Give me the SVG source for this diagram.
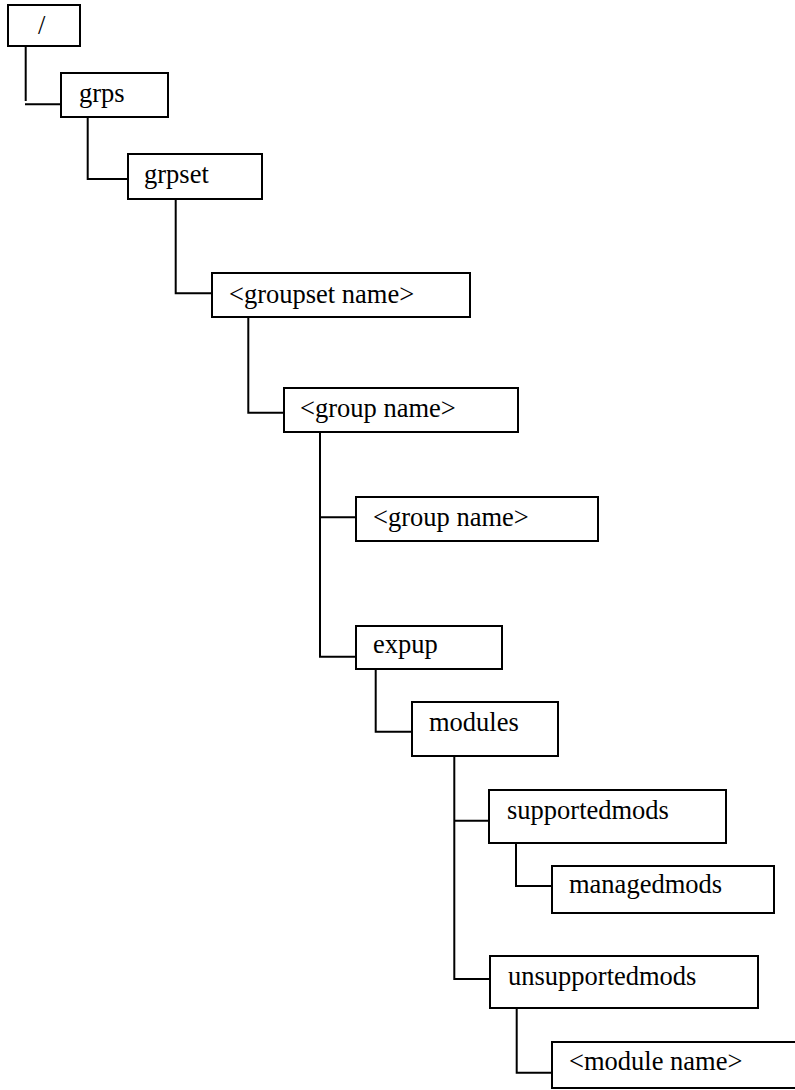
<svg xmlns="http://www.w3.org/2000/svg" width="795" height="1090" viewBox="0 0 795 1090">
<style>
.box{fill:#fff;stroke:#000;stroke-width:2}
.lbl{font-family:"Liberation Serif","Times New Roman",serif;font-size:26.5px;fill:#000}
.con{fill:none;stroke:#000;stroke-width:2}
</style>
<rect width="795" height="1090" fill="#fff"/>
<g id="connectors">
<path class="con" d="M25.7,46 V101 M25,104.3 H61"/>
<path class="con" d="M87.7,117 V179 H128"/>
<path class="con" d="M175.7,199 V293.3 H212"/>
<path class="con" d="M248.3,317 V412.7 H284"/>
<path class="con" d="M320,432 V656.7 H356 M320,517.3 H356"/>
<path class="con" d="M375.7,669 V731.7 H412"/>
<path class="con" d="M454.3,756 V979 H490 M454.3,820.7 H489"/>
<path class="con" d="M516,843 V886 H552"/>
<path class="con" d="M516.7,1008 V1072.7 H552"/>
</g>
<g id="n-root"><rect class="box" x="8" y="5" width="72" height="41"/><text class="lbl" x="38" y="34">/</text></g>
<g id="n-grps"><rect class="box" x="61" y="73" width="107" height="44"/><text class="lbl" x="79" y="102">grps</text></g>
<g id="n-grpset"><rect class="box" x="128" y="154" width="134" height="45"/><text class="lbl" x="144" y="183">grpset</text></g>
<g id="n-groupset-name"><rect class="box" x="212" y="273" width="258" height="44"/><text class="lbl" x="229" y="303">&lt;groupset name&gt;</text></g>
<g id="n-group-name-1"><rect class="box" x="284" y="388" width="234" height="44"/><text class="lbl" x="300" y="417">&lt;group name&gt;</text></g>
<g id="n-group-name-2"><rect class="box" x="356" y="497" width="242" height="44"/><text class="lbl" x="373" y="526">&lt;group name&gt;</text></g>
<g id="n-expup"><rect class="box" x="356" y="626" width="146" height="43"/><text class="lbl" x="373" y="653">expup</text></g>
<g id="n-modules"><rect class="box" x="412" y="702" width="146" height="54"/><text class="lbl" x="429" y="731">modules</text></g>
<g id="n-supportedmods"><rect class="box" x="489" y="790" width="237" height="53"/><text class="lbl" x="507" y="819">supportedmods</text></g>
<g id="n-managedmods"><rect class="box" x="552" y="866" width="222" height="47"/><text class="lbl" x="569" y="893">managedmods</text></g>
<g id="n-unsupportedmods"><rect class="box" x="490" y="956" width="268" height="52"/><text class="lbl" x="508" y="985">unsupportedmods</text></g>
<g id="n-module-name"><rect class="box" x="552" y="1042" width="260" height="46"/><text class="lbl" x="569" y="1070">&lt;module name&gt;</text></g>
</svg>
